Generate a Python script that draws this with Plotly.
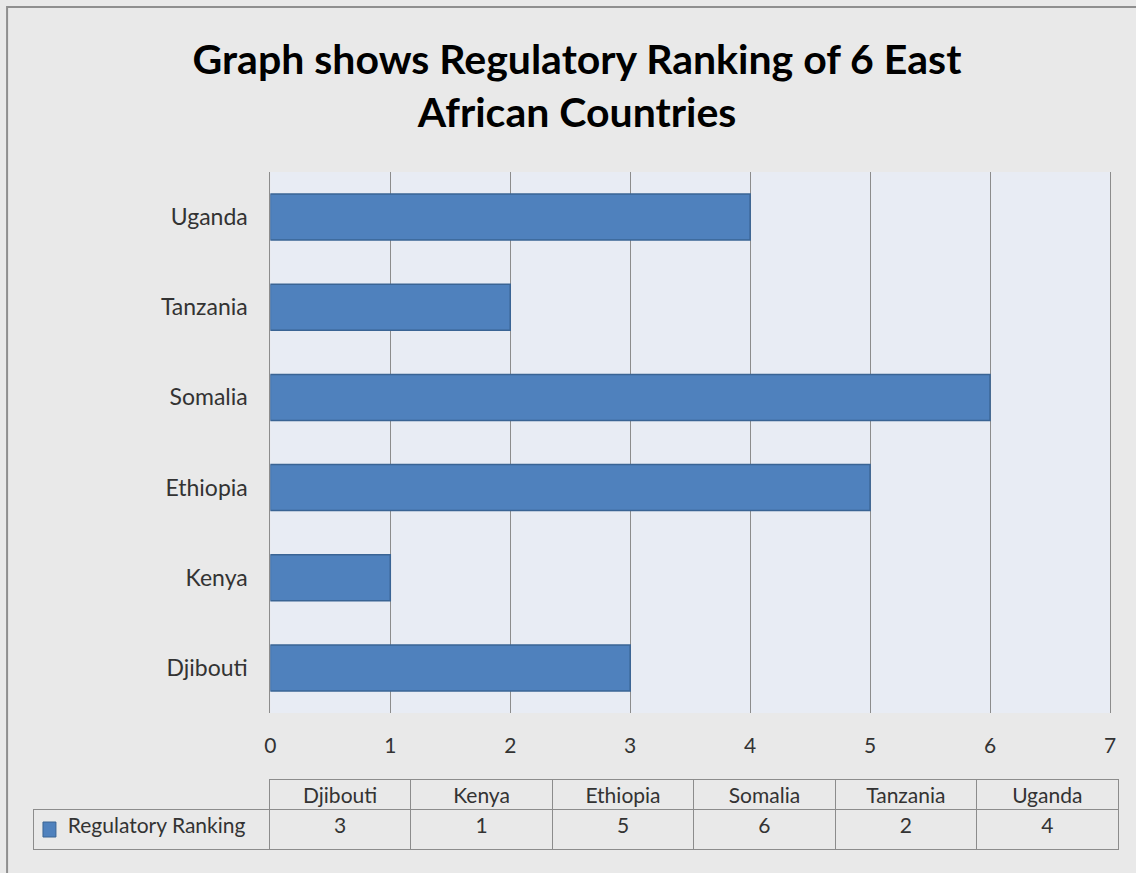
"""
Regulatory ranking of six East African countries, horizontal bar chart with data table.
"""

import plotly.graph_objects as go

# Data
countries = ["Djibouti", "Kenya", "Ethiopia", "Somalia", "Tanzania", "Uganda"]
ranking = [3, 1, 5, 6, 2, 4]
series_name = "Regulatory Ranking"
x_ticks = [0, 1, 2, 3, 4, 5, 6, 7]

BAR_COLOR = "#4F81BD"
BAR_EDGE = "#3A6494"
GRID = "#8c8c8c"
TEXT = "#333333"
FONT = "Lato"

W, H = 1136, 873
# plot area / table pixel layout (paper spans x 33..1121, y 172..850)
L, R, T, B = 33, W - 1121, 172, H - 850
PW, PH = W - L - R, H - T - B


def px_x(p):
    return (p - L) / PW


def px_y(p):
    return (850 - p) / PH


fig = go.Figure()

fig.add_trace(go.Bar(
    x=ranking,
    y=countries,
    orientation="h",
    width=0.51,
    marker=dict(color=BAR_COLOR, line=dict(color=BAR_EDGE, width=1.5)),
    name=series_name,
    showlegend=False,
))

# data table under the chart
header_vals = [""] + countries
cell_vals = [[series_name]] + [[v] for v in ranking]
line_cols = ["rgba(0,0,0,0)"] + [GRID] * len(countries)

fig.add_trace(go.Table(
    domain=dict(x=[0, 1], y=[0, 71 / PH]),
    columnwidth=[237] + [141.8] * len(countries),
    header=dict(
        values=header_vals,
        fill_color="rgba(0,0,0,0)",
        line=dict(color=line_cols, width=1),
        align="center",
        height=30,
        font=dict(family=FONT, size=21, color=TEXT),
    ),
    cells=dict(
        values=cell_vals,
        prefix=["  \u2009"] + [""] * len(countries),
        fill_color="rgba(0,0,0,0)",
        line=dict(color=GRID, width=1),
        align=["left"] + ["center"] * len(countries),
        height=40,
        font=dict(family=FONT, size=21, color=TEXT),
    ),
))

fig.update_layout(
    width=W,
    height=H,
    margin=dict(l=L, r=R, t=T, b=B, pad=0),
    paper_bgcolor="#E9E9E9",
    plot_bgcolor="#E8ECF4",
    font=dict(family=FONT, color=TEXT),
    title=dict(
        text="Graph shows Regulatory Ranking of 6 East<br>African Countries",
        x=577 / W,
        xanchor="center",
        y=1 - 74 / H,
        yanchor="middle",
        font=dict(family=FONT, size=41, color="#000000", weight="bold"),
    ),
    bargap=0.49,
    shapes=[
        dict(
            type="rect", xref="paper", yref="paper",
            x0=px_x(7), x1=px_x(1145), y0=px_y(885), y1=px_y(7),
            line=dict(color="#8f8f8f", width=2),
            fillcolor="rgba(0,0,0,0)",
            layer="below",
        ),
        # legend key square in the table's first cell
        dict(
            type="rect", xref="paper", yref="paper",
            x0=px_x(43), x1=px_x(56), y0=px_y(837), y1=px_y(822),
            line=dict(color="#3A6494", width=1),
            fillcolor=BAR_COLOR,
        ),
    ],
)

fig.update_xaxes(
    domain=[px_x(271), px_x(1113)],
    range=[0, 7],
    tickvals=x_ticks,
    showgrid=True,
    gridcolor=GRID,
    gridwidth=1,
    zeroline=False,
    showline=False,
    ticks="",
    ticklabelstandoff=18,
    tickfont=dict(family=FONT, size=21, color=TEXT),
    fixedrange=True,
)

fig.update_yaxes(
    domain=[px_y(713), 1],
    categoryorder="array",
    categoryarray=countries,
    showline=True,
    mirror=True,
    linecolor=GRID,
    linewidth=1,
    showgrid=False,
    ticks="",
    ticklabelstandoff=17,
    tickfont=dict(family=FONT, size=23, color=TEXT),
    fixedrange=True,
)

fig.write_html(
    "out.html",
    config={"displayModeBar": False},
    post_script="document.body.style.margin='0';",
)
